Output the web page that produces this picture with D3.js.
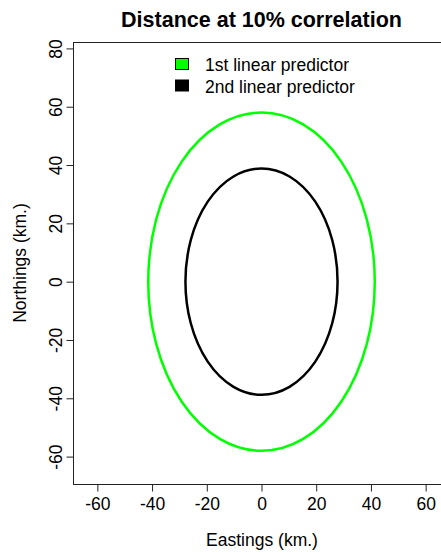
<!DOCTYPE html>
<html>
<head>
<meta charset="utf-8">
<script src="https://cdn.jsdelivr.net/npm/d3@7"></script>
<style>
  html, body { margin: 0; padding: 0; background: #fff; }
  svg { display: block; font-family: "Liberation Sans", Arial, sans-serif; }
</style>
</head>
<body>
<svg id="chart" width="441" height="552"></svg>
<script>
// Correlation-distance ellipses (semi-axes in km) for each linear predictor
const predictors = ["1st linear predictor", "2nd linear predictor"];
const colors = ["#00ff00", "#000000"];
const semiAxisEast = [41.4, 27.8];
const semiAxisNorth = [58.0, 38.8];
const centerEast = [0, 0];
const centerNorth = [0, 0];

const xTicks = [-60, -40, -20, 0, 20, 40, 60];
const yTicks = [-60, -40, -20, 0, 20, 40, 60, 80];

const svg = d3.select("#chart");
const plotLeft = 73, plotRight = 450, plotTop = 42, plotBottom = 484;

const x = d3.scaleLinear().domain([-68.9, 68.9]).range([plotLeft, plotRight]);
const y = d3.scaleLinear().domain([-69.4, 82.2]).range([plotBottom, plotTop]);

// plain ASCII hyphen for negative tick labels
const fmt = d => String(d);

// Title
svg.append("text")
  .attr("x", (plotLeft + plotRight) / 2).attr("y", 27)
  .attr("text-anchor", "middle")
  .attr("font-weight", "bold").attr("font-size", "21.5px")
  .text("Distance at 10% correlation");

// Ellipses
const g = svg.append("g");
predictors.forEach((p, i) => {
  g.append("ellipse")
    .attr("cx", x(centerEast[i]))
    .attr("cy", y(centerNorth[i]))
    .attr("rx", x(centerEast[i] + semiAxisEast[i]) - x(centerEast[i]))
    .attr("ry", y(centerNorth[i]) - y(centerNorth[i] + semiAxisNorth[i]))
    .attr("fill", "none")
    .attr("stroke", colors[i])
    .attr("stroke-width", 2.5);
});

// Plot box
svg.append("rect")
  .attr("x", plotLeft + 0.5).attr("y", plotTop + 0.5)
  .attr("width", plotRight - plotLeft).attr("height", plotBottom - plotTop)
  .attr("fill", "none").attr("stroke", "#222").attr("stroke-width", 1);

// X axis
const xAxis = svg.append("g")
  .attr("transform", `translate(0,${plotBottom + 0.5})`)
  .call(d3.axisBottom(x).tickValues(xTicks).tickSize(7).tickPadding(6).tickFormat(fmt));
xAxis.select(".domain").remove();
xAxis.selectAll("line").attr("stroke", "#222");
xAxis.selectAll("text").attr("font-size", "17.5px").attr("fill", "#000")
  .attr("font-family", "'Liberation Sans', Arial, sans-serif");

// Y axis (labels parallel to the axis)
const yAxis = svg.append("g")
  .attr("transform", `translate(${plotLeft + 0.5},0)`)
  .call(d3.axisLeft(y).tickValues(yTicks).tickSize(7).tickFormat(fmt));
yAxis.select(".domain").remove();
yAxis.selectAll("line").attr("stroke", "#222");
yAxis.selectAll("text")
  .attr("font-size", "17.5px").attr("fill", "#000")
  .attr("font-family", "'Liberation Sans', Arial, sans-serif")
  .attr("text-anchor", "middle")
  .attr("x", 0).attr("dy", 0)
  .attr("transform", "translate(-11.5,0) rotate(-90)");

// Axis titles
svg.append("text")
  .attr("x", (plotLeft + plotRight) / 2 + 0.5).attr("y", 546)
  .attr("text-anchor", "middle").attr("font-size", "17.5px")
  .text("Eastings (km.)");
svg.append("text")
  .attr("transform", `translate(26,${(plotTop + plotBottom) / 2}) rotate(-90)`)
  .attr("text-anchor", "middle").attr("font-size", "17.5px")
  .text("Northings (km.)");

// Legend
const legend = svg.append("g");
predictors.forEach((p, i) => {
  legend.append("rect")
    .attr("x", 175.5).attr("y", 58.5 + i * 21.5)
    .attr("width", 13).attr("height", 11)
    .attr("fill", colors[i]).attr("stroke", "#000").attr("stroke-width", 1);
  legend.append("text")
    .attr("x", 205).attr("y", 71 + i * 21.5)
    .attr("font-size", "17.5px")
    .text(p);
});
</script>
</body>
</html>
